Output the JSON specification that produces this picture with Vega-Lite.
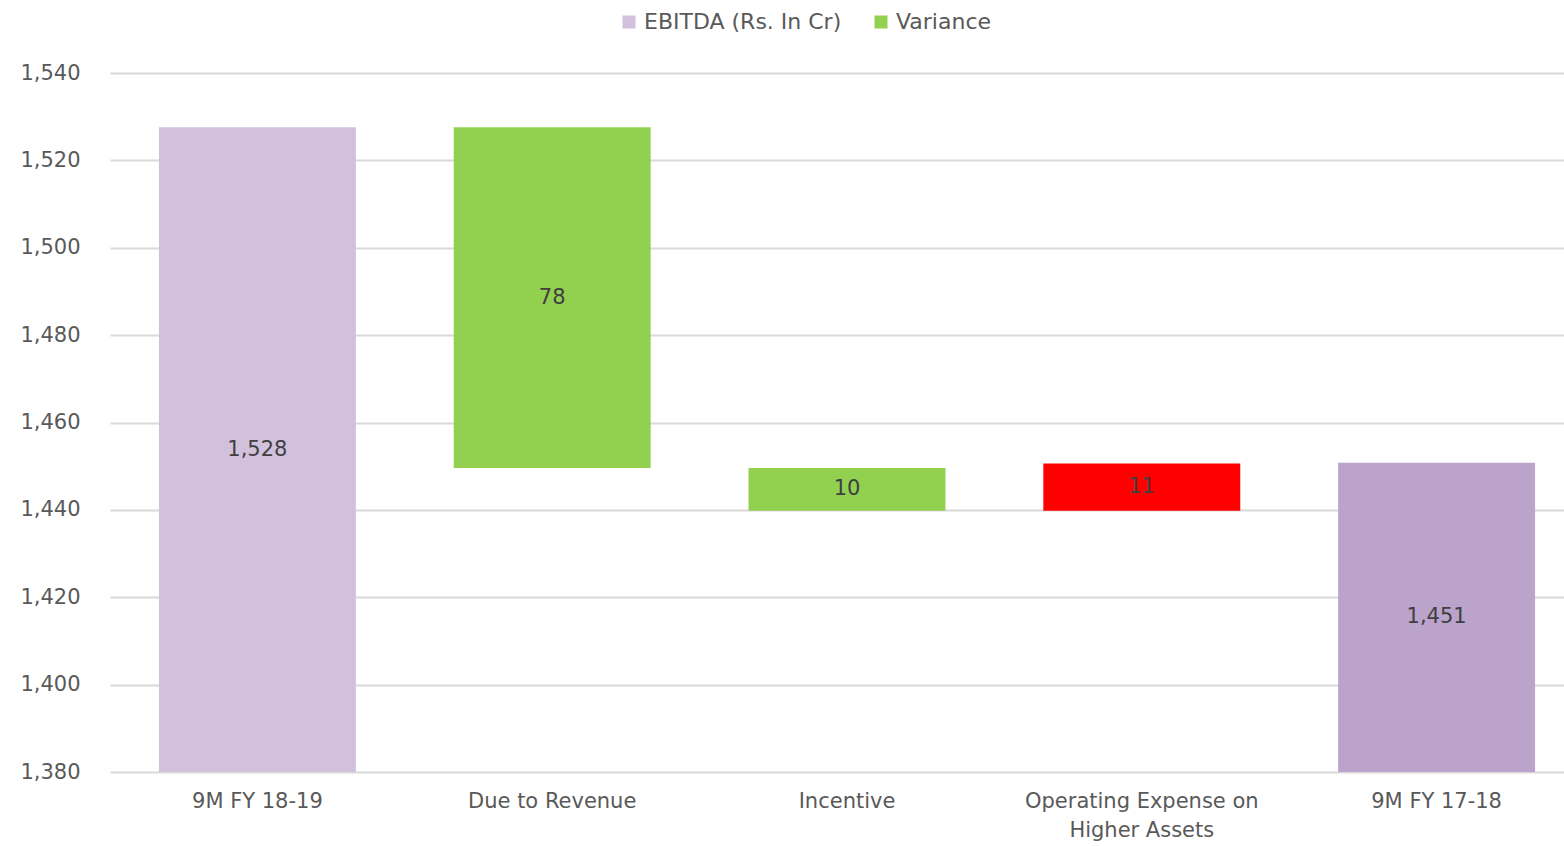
{
  "$schema": "https://vega.github.io/schema/vega-lite/v6.json",
  "width": 1474,
  "height": 699,
  "autosize": {"type": "none"},
  "padding": {"left": 110, "top": 73, "right": 0, "bottom": 74},
  "background": "white",
  "config": {
    "view": {"stroke": null},
    "font": "DejaVu Sans",
    "axis": {"labelFont": "DejaVu Sans", "labelColor": "#595959", "labelFontSize": 21},
    "legend": {"labelFont": "DejaVu Sans", "labelColor": "#595959", "labelFontSize": 22}
  },
  "data": {
    "values": [
      {"cat": "9M FY 18-19", "start": 1380, "end": 1527.6, "value": 1528, "kind": "EBITDA (Rs. In Cr)"},
      {"cat": "Due to Revenue", "start": 1449.6, "end": 1527.6, "value": 78, "kind": "Variance"},
      {"cat": "Incentive", "start": 1439.8, "end": 1449.6, "value": 10, "kind": "Variance"},
      {"cat": "Operating Expense on Higher Assets", "start": 1439.8, "end": 1450.6, "value": 11, "kind": "Negative"},
      {"cat": "9M FY 17-18", "start": 1380, "end": 1450.8, "value": 1451, "kind": "EBITDA 17-18"}
    ]
  },
  "encoding": {
    "x": {
      "field": "cat", "type": "nominal", "sort": null, "title": null,
      "scale": {"paddingInner": 0.332, "paddingOuter": 0.166},
      "axis": {
        "labelAngle": 0, "domain": false, "ticks": false, "labelPadding": 18,
        "labelLineHeight": 29, "labelLimit": 400,
        "labelExpr": "datum.value == 'Operating Expense on Higher Assets' ? ['Operating Expense on', 'Higher Assets'] : datum.value"
      }
    }
  },
  "layer": [
    {
      "mark": {"type": "bar"},
      "encoding": {
        "y": {
          "field": "start", "type": "quantitative", "title": null,
          "scale": {"domain": [1380, 1540], "nice": false, "zero": false},
          "axis": {"values": [1380,1400,1420,1440,1460,1480,1500,1520,1540], "labelOverlap": false, "domain": false, "ticks": false, "labelPadding": 30, "format": ",d", "gridColor": "#d9d9d9", "gridWidth": 2}
        },
        "y2": {"field": "end"},
        "color": {
          "field": "kind", "type": "nominal",
          "scale": {
            "domain": ["EBITDA (Rs. In Cr)", "Variance", "EBITDA 17-18", "Negative"],
            "range": ["#d1c1dd", "#92d050", "#bba3cc", "#ff0000"]
          },
          "legend": {
            "values": ["EBITDA (Rs. In Cr)", "Variance"],
            "title": null, "orient": "none", "direction": "horizontal",
            "legendX": 508, "legendY": -62, "labelLimit": 400,
            "symbolType": "square", "symbolSize": 169, "symbolStrokeWidth": 0,
            "columnPadding": 28, "labelOffset": 4
          }
        }
      }
    },
    {
      "transform": [{"calculate": "(datum.start + datum.end) / 2", "as": "mid"}],
      "mark": {"type": "text", "fontSize": 21, "color": "#404040", "font": "DejaVu Sans"},
      "encoding": {
        "y": {
          "field": "mid", "type": "quantitative", "title": null,
          "axis": {"values": [1380,1400,1420,1440,1460,1480,1500,1520,1540], "labelOverlap": false, "domain": false, "ticks": false, "labelPadding": 30, "format": ",d", "gridColor": "#d9d9d9", "gridWidth": 2}
        },
        "text": {"field": "value", "type": "quantitative", "format": ","}
      }
    }
  ]
}
